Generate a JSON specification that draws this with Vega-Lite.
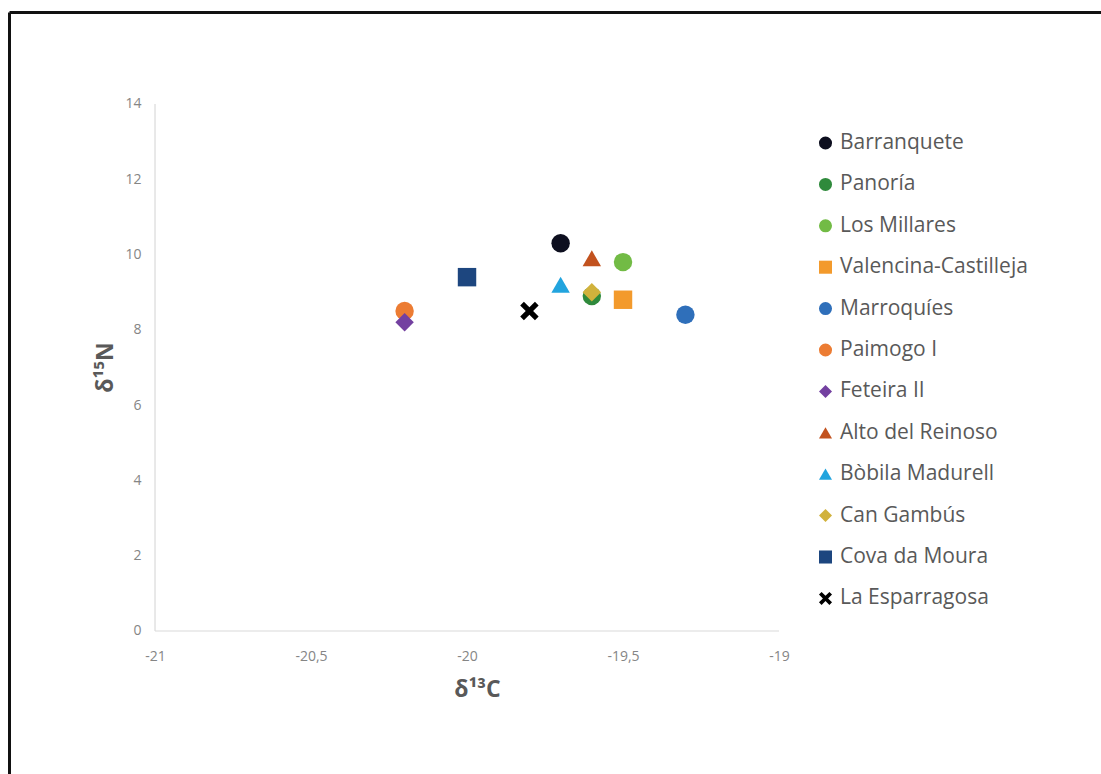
{
  "$schema": "https://vega.github.io/schema/vega-lite/v6.json",
  "width": 1092,
  "height": 762,
  "padding": {"left": 9, "top": 12, "right": 0, "bottom": 0},
  "autosize": {"type": "none"},
  "background": "white",
  "config": {
    "view": {"stroke": null},
    "font": "Open Sans",
    "axis": {"grid": false}
  },
  "resolve": {"axis": {"x": "independent", "y": "independent"}},
  "layer": [
    {
      "data": {"values": [
        {"x": -21, "y": 0, "x2": -19, "y2": 0},
        {"x": -21, "y": 0, "x2": -21, "y2": 14}
      ]},
      "mark": {"type": "rule", "color": "#d9d9d9", "strokeWidth": 1.2},
      "encoding": {
        "x": {"field": "x", "type": "quantitative",
              "scale": {"domain": [-21.468, -17.968], "nice": false, "zero": false},
              "axis": {"orient": "top", "offset": 0, "domain": true, "domainColor": "#111111", "domainWidth": 3, "ticks": false, "labels": false, "title": null, "grid": false}},
        "x2": {"field": "x2"},
        "y": {"field": "y", "type": "quantitative",
              "scale": {"domain": [-3.799, 16.444], "nice": false, "zero": false},
              "axis": {"orient": "left", "offset": 0, "domain": true, "domainColor": "#111111", "domainWidth": 3, "ticks": false, "labels": false, "title": null, "grid": false}},
        "y2": {"field": "y2"}
      }
    },
    {
      "data": {"values": [
        {"site": "Barranquete", "d13C": -19.7, "d15N": 10.3},
        {"site": "Panoría", "d13C": -19.6, "d15N": 8.9},
        {"site": "Los Millares", "d13C": -19.5, "d15N": 9.8},
        {"site": "Valencina-Castilleja", "d13C": -19.5, "d15N": 8.8},
        {"site": "Marroquíes", "d13C": -19.3, "d15N": 8.4},
        {"site": "Paimogo I", "d13C": -20.2, "d15N": 8.5},
        {"site": "Feteira II", "d13C": -20.2, "d15N": 8.2},
        {"site": "Alto del Reinoso", "d13C": -19.6, "d15N": 9.9},
        {"site": "Bòbila Madurell", "d13C": -19.7, "d15N": 9.2},
        {"site": "Can Gambús", "d13C": -19.6, "d15N": 9.0},
        {"site": "Cova da Moura", "d13C": -20.0, "d15N": 9.4},
        {"site": "La Esparragosa", "d13C": -19.8, "d15N": 8.5}
      ]},
      "mark": {"type": "point", "filled": true, "opacity": 1, "size": 340, "strokeWidth": 0},
      "encoding": {
        "x": {"field": "d13C", "type": "quantitative",
              "scale": {"domain": [-21.468, -17.968], "nice": false, "zero": false},
              "axis": {"orient": "bottom", "offset": -143, "domain": false, "ticks": false,
                       "values": [-21, -20.5, -20, -19.5, -19],
                       "labelExpr": "replace(toString(datum.value), '.', ',')",
                       "labelFontSize": 14, "labelColor": "#858585", "labelPadding": 18,
                       "title": "δ¹³C", "titleFontSize": 23, "titleFontWeight": "bold", "titleColor": "#595959",
                       "titleX": 468, "titleY": 47, "titleAlign": "center", "titleBaseline": "top"}},
        "y": {"field": "d15N", "type": "quantitative",
              "scale": {"domain": [-3.799, 16.444], "nice": false, "zero": false},
              "axis": {"orient": "left", "offset": -146, "domain": false, "ticks": false,
                       "values": [0, 2, 4, 6, 8, 10, 12, 14],
                       "labelFontSize": 14, "labelColor": "#858585", "labelPadding": 14,
                       "title": "δ¹⁵N", "titleFontSize": 23, "titleFontWeight": "bold", "titleColor": "#595959",
                       "titleX": -38, "titleY": 355, "titleAngle": -90, "titleAlign": "center", "titleBaseline": "bottom"}},
        "color": {"field": "site", "type": "nominal",
                  "scale": {"domain": ["Barranquete", "Panoría", "Los Millares", "Valencina-Castilleja", "Marroquíes", "Paimogo I", "Feteira II", "Alto del Reinoso", "Bòbila Madurell", "Can Gambús", "Cova da Moura", "La Esparragosa"],
                            "range": ["#0d0f1f", "#2f8a3c", "#72bb45", "#f39a2c", "#2f6fba", "#ec7c33", "#7340a0", "#c2521e", "#22a4de", "#d1b23c", "#1d467f", "#000000"]},
                  "legend": {"orient": "none", "legendX": 806, "legendY": 120.5, "title": null,
                             "labelFontSize": 21, "labelColor": "#595959", "labelOffset": 4, "labelLimit": 400,
                             "symbolSize": 170, "symbolStrokeWidth": 0, "rowPadding": 19.4, "padding": 0}},
        "shape": {"field": "site", "type": "nominal",
                  "scale": {"domain": ["Barranquete", "Panoría", "Los Millares", "Valencina-Castilleja", "Marroquíes", "Paimogo I", "Feteira II", "Alto del Reinoso", "Bòbila Madurell", "Can Gambús", "Cova da Moura", "La Esparragosa"],
                            "range": ["circle", "circle", "circle", "square", "circle", "circle", "diamond", "triangle-up", "triangle-up", "diamond", "square", "M-1,-0.6L-0.6,-1L0,-0.4L0.6,-1L1,-0.6L0.4,0L1,0.6L0.6,1L0,0.4L-0.6,1L-1,0.6L-0.4,0Z"]}}
      }
    }
  ]
}
